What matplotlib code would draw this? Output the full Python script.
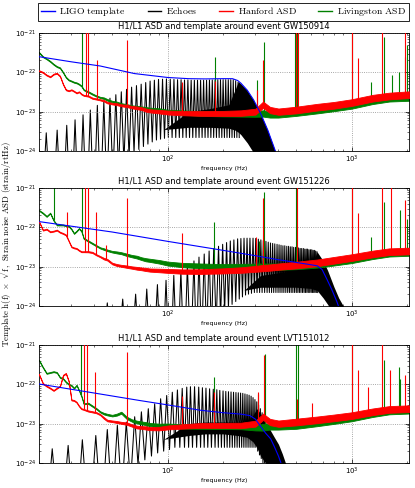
import numpy as np
import matplotlib
matplotlib.use('Agg')
import matplotlib.pyplot as plt
from matplotlib.lines import Line2D
from matplotlib.ticker import NullFormatter

plt.rcParams['mathtext.fontset'] = 'cm'

events = ['GW150914', 'GW151226', 'LVT151012']

# frequency grid used for the noise curves (Hz), and the width of the noise band (dex)
asd_f = [20, 21, 22, 23, 24, 25, 26, 27, 28, 29,
         30, 31, 32, 33, 34, 35, 37, 39, 41, 43,
         45, 47, 50, 53, 56, 60, 64, 68, 72, 76,
         80, 90, 100, 120, 150, 200, 250, 300, 330, 360,
         400, 500, 650, 800, 1000, 1300, 1600, 2048]
asd_spread = [0.012, 0.012, 0.012, 0.012, 0.012, 0.012, 0.012, 0.012, 0.012, 0.012,
              0.012, 0.012, 0.012, 0.012, 0.012, 0.012, 0.015, 0.015, 0.015, 0.015,
              0.02, 0.02, 0.02, 0.025, 0.025, 0.03, 0.03, 0.035, 0.035, 0.04,
              0.04, 0.045, 0.05, 0.055, 0.06, 0.065, 0.07, 0.075, 0.08, 0.08,
              0.08, 0.085, 0.085, 0.085, 0.085, 0.085, 0.085, 0.085]

# ---------------- GW150914 ----------------
tmpl_f1 = [20, 30, 43, 66, 100, 130, 160, 200, 225, 240, 250, 271, 293, 320, 350, 376, 400]
tmpl_v1 = [2.5e-22, 1.85e-22, 1.45e-22, 9.3e-23, 7.4e-23, 6.9e-23, 6.8e-23, 6.9e-23, 6.9e-23,
           6.2e-23, 5.3e-23, 3.5e-23, 2.0e-23, 9e-24, 3.4e-24, 1.35e-24, 6e-25]

echo_f1 = [21.9, 25.1, 28.3, 31.4, 34.7, 38.0, 41.5, 45.0, 48.6, 52.3,
           56.0, 59.8, 63.7, 67.7, 71.8, 76.0, 80.3, 84.7, 89.2, 93.8,
           98.5, 103.3, 108.2, 113.2, 118.3, 123.5, 128.8, 134.2, 139.7, 145.3,
           151.0, 156.8, 162.7, 168.7, 174.8, 181.0, 187.3, 193.7, 200.2, 206.8,
           213.5, 220.3, 227.2, 234.2, 241.3]
echo_pk1 = [2.9e-24, 3.4e-24, 4.5e-24, 6.2e-24, 8.3e-24, 1.1e-23, 1.45e-23, 1.8e-23, 2.2e-23, 2.7e-23,
            3.2e-23, 3.7e-23, 4.2e-23, 4.6e-23, 5.0e-23, 5.5e-23, 6.0e-23, 6.3e-23, 6.6e-23, 6.7e-23,
            6.8e-23, 6.7e-23, 6.6e-23, 6.5e-23, 6.5e-23, 6.4e-23, 6.4e-23, 6.3e-23, 6.3e-23, 6.3e-23,
            6.3e-23, 6.3e-23, 6.3e-23, 6.4e-23, 6.4e-23, 6.4e-23, 6.5e-23, 6.5e-23, 6.5e-23, 6.5e-23,
            6.5e-23, 6.5e-23, 6.5e-23, 6.1e-23, 5.6e-23]
echo_tr1 = [1e-26, 1e-26, 1e-26, 1e-26, 2e-26, 3e-26, 5e-26, 1e-25, 2e-25, 3e-25,
            5e-25, 7e-25, 9e-25, 1.1e-24, 1.3e-24, 1.5e-24, 1.7e-24, 1.9e-24, 2.0e-24, 2.1e-24,
            2.2e-24, 2.2e-24, 2.2e-24, 2.2e-24, 2.2e-24, 2.2e-24, 2.2e-24, 2.2e-24, 2.2e-24, 2.2e-24,
            2.2e-24, 2.2e-24, 2.2e-24, 2.2e-24, 2.2e-24, 2.2e-24, 2.2e-24, 2.2e-24, 2.2e-24, 2.2e-24,
            2.2e-24, 2.2e-24, 2.2e-24, 2.2e-24, 2.2e-24]
band_f1 = [95, 130, 170, 215, 232, 242, 250, 271, 293, 320, 350, 376, 400]
band_lo1 = [3.5e-24, 4e-24, 4e-24, 3.8e-24, 3.4e-24, 3e-24, 2.6e-24, 1.6e-24, 9e-25, 5e-25, 5e-25, 5e-25, 5e-25]
band_hi1 = [3.5e-24, 1.0e-23, 1.2e-23, 1.5e-23, 3.5e-23, 5.8e-23, 5.1e-23, 3.4e-23, 1.95e-23, 8.8e-24,
            3.3e-24, 1.3e-24, 6e-25]

h1_v1 = [1.1e-22, 1.0e-22, 8.5e-23, 7.7e-23, 9.0e-23, 9.5e-23, 8.0e-23, 5.0e-23, 3.6e-23, 3.4e-23,
         3.6e-23, 3.3e-23, 3.0e-23, 3.2e-23, 2.8e-23, 2.6e-23, 2.5e-23, 2.2e-23, 2.1e-23, 2.0e-23,
         1.9e-23, 1.7e-23, 1.6e-23, 1.55e-23, 1.45e-23, 1.4e-23, 1.3e-23, 1.25e-23, 1.2e-23, 1.1e-23,
         1.05e-23, 1.0e-23, 9.5e-24, 9.2e-24, 9.0e-24, 9.0e-24, 9.2e-24, 1.0e-23, 1.5e-23, 1.1e-23,
         1.0e-23, 1.1e-23, 1.3e-23, 1.45e-23, 1.7e-23, 2.2e-23, 2.5e-23, 2.7e-23]
l1_v1 = [3.2e-22, 2.5e-22, 2.2e-22, 1.9e-22, 1.6e-22, 1.4e-22, 1.3e-22, 1.0e-22, 7.5e-23, 6.4e-23,
         6.0e-23, 5.6e-23, 5.4e-23, 5.0e-23, 4.5e-23, 3.6e-23, 3.2e-23, 2.8e-23, 2.5e-23, 2.3e-23,
         2.2e-23, 2.0e-23, 1.8e-23, 1.7e-23, 1.55e-23, 1.45e-23, 1.35e-23, 1.3e-23, 1.25e-23, 1.2e-23,
         1.15e-23, 1.1e-23, 1.0e-23, 9.5e-24, 9.0e-24, 8.8e-24, 8.8e-24, 8.8e-24, 9.0e-24, 8.5e-24,
         8.5e-24, 9.5e-24, 1.1e-23, 1.25e-23, 1.45e-23, 1.9e-23, 2.2e-23, 2.3e-23]
h1_sf1 = [35.8, 37.0, 41.5, 60, 120, 180, 306, 331, 500, 510, 1000, 1080, 1460, 1960]
h1_sv1 = [2e-21, 2e-21, 2e-22, 6.6e-22, 5.8e-23, 6.0e-23, 3.5e-23, 2e-22, 2e-21, 2e-21,
          2e-21, 2.3e-22, 2e-21, 2e-21]
l1_sf1 = [34.4, 180, 305, 335, 495, 505, 1010, 1270, 1500, 1660, 1800, 1960, 2000]
l1_sv1 = [2e-21, 2.5e-22, 6.4e-23, 6e-22, 2e-21, 2e-21, 2e-21, 5.8e-23, 8e-22, 8.5e-23,
          1e-22, 2.5e-22, 5e-22]

# ---------------- GW151226 ----------------
tmpl_f2 = [20, 50, 100, 200, 300, 400, 500, 600, 650, 690, 730, 780, 830, 870]
tmpl_v2 = [1.4e-22, 7.6e-23, 4.4e-23, 2.6e-23, 1.9e-23, 1.5e-23, 1.28e-23, 1.12e-23, 1.05e-23,
           8.5e-24, 5e-24, 2.6e-24, 1.3e-24, 7e-25]

echo_f2 = [47, 57, 67, 77, 88, 98, 108, 118, 128, 139,
           148, 158, 168, 178, 189, 199, 209, 219, 229, 240,
           250, 260, 270, 280, 291, 301, 311, 321, 331, 342,
           352, 362, 372, 382, 393, 403, 413, 423, 433, 444,
           454, 464, 474, 484, 495, 505, 515, 525, 535, 546,
           556, 566, 576, 586, 597, 607, 617, 627, 637, 648]
echo_pk2 = [1.2e-24, 1.5e-24, 2.0e-24, 2.7e-24, 3.5e-24, 4.5e-24, 6.0e-24, 8.0e-24, 1.05e-23, 1.4e-23,
            1.75e-23, 2.1e-23, 2.5e-23, 2.9e-23, 3.3e-23, 3.7e-23, 4.1e-23, 4.5e-23, 4.8e-23, 5.1e-23,
            5.2e-23, 5.3e-23, 5.3e-23, 5.3e-23, 5.3e-23, 5.2e-23, 5.0e-23, 4.8e-23, 4.6e-23, 4.4e-23,
            4.2e-23, 4.0e-23, 3.9e-23, 3.8e-23, 3.7e-23, 3.6e-23, 3.5e-23, 3.4e-23, 3.4e-23, 3.3e-23,
            3.3e-23, 3.2e-23, 3.2e-23, 3.1e-23, 3.1e-23, 3.0e-23, 3.0e-23, 2.9e-23, 2.9e-23, 2.9e-23,
            2.8e-23, 2.8e-23, 2.8e-23, 2.7e-23, 2.7e-23, 2.7e-23, 2.6e-23, 2.6e-23, 2.5e-23, 2.4e-23]
echo_tr2 = [1e-26, 1e-26, 1e-26, 1e-26, 1e-26, 1e-26, 2e-26, 3e-26, 5e-26, 8e-26,
            1e-25, 1.5e-25, 2e-25, 3e-25, 5e-25, 7e-25, 9e-25, 1.1e-24, 1.3e-24, 1.5e-24,
            1.7e-24, 1.9e-24, 2.0e-24, 2.1e-24, 2.2e-24, 2.2e-24, 2.2e-24, 2.2e-24, 2.2e-24, 2.2e-24,
            2.2e-24, 2.2e-24, 2.2e-24, 2.2e-24, 2.2e-24, 2.2e-24, 2.2e-24, 2.2e-24, 2.2e-24, 2.2e-24,
            2.2e-24, 2.2e-24, 2.2e-24, 2.2e-24, 2.2e-24, 2.2e-24, 2.2e-24, 2.2e-24, 2.2e-24, 2.2e-24,
            2.2e-24, 2.2e-24, 2.2e-24, 2.2e-24, 2.2e-24, 2.2e-24, 2.2e-24, 2.2e-24, 2.2e-24, 2.2e-24]
band_f2 = [260, 320, 400, 500, 600, 648, 700, 740, 800, 850, 900, 950]
band_lo2 = [2.5e-24, 3e-24, 3e-24, 3e-24, 2.8e-24, 2.5e-24, 1.6e-24, 1.1e-24, 6e-25, 5e-25, 5e-25, 5e-25]
band_hi2 = [2.5e-24, 6e-24, 7e-24, 8e-24, 9e-24, 2.4e-23, 1.4e-23, 8e-24, 3.1e-24, 1.6e-24, 1e-24, 5e-25]

h1_v2 = [1.4e-22, 8.5e-23, 9.0e-23, 7.7e-23, 8.0e-23, 8.5e-23, 7.5e-23, 7.0e-23, 6.4e-23, 4.5e-23,
         3.2e-23, 3.0e-23, 2.9e-23, 2.6e-23, 2.4e-23, 2.4e-23, 2.4e-23, 2.3e-23, 2.0e-23, 1.8e-23,
         1.6e-23, 1.5e-23, 1.2e-23, 1.1e-23, 1.05e-23, 1.0e-23, 9.5e-24, 9.1e-24, 8.8e-24, 8.5e-24,
         8.2e-24, 8.0e-24, 7.8e-24, 7.5e-24, 7.5e-24, 7.8e-24, 8.2e-24, 8.8e-24, 9.2e-24, 9.5e-24,
         1.0e-23, 1.1e-23, 1.25e-23, 1.45e-23, 1.7e-23, 2.1e-23, 2.4e-23, 2.5e-23]
l1_v2 = [2.7e-22, 2.3e-22, 1.9e-22, 2.3e-22, 1.5e-22, 1.15e-22, 1.15e-22, 1.15e-22, 1.1e-22, 1.07e-22,
         9.0e-23, 7.0e-23, 8.0e-23, 9.4e-23, 8.0e-23, 5.2e-23, 4.5e-23, 3.9e-23, 3.4e-23, 3.0e-23,
         2.8e-23, 2.6e-23, 2.4e-23, 2.3e-23, 2.2e-23, 2.0e-23, 1.85e-23, 1.75e-23, 1.6e-23, 1.5e-23,
         1.45e-23, 1.33e-23, 1.2e-23, 1.1e-23, 1.05e-23, 1.0e-23, 1.0e-23, 1.0e-23, 1.0e-23, 1.0e-23,
         1.0e-23, 1.05e-23, 1.15e-23, 1.3e-23, 1.5e-23, 1.9e-23, 2.2e-23, 2.3e-23]
h1_sf2 = [28.5, 35.5, 37.0, 41.0, 46.0, 60, 120, 301, 331, 505, 1000, 1084, 1460, 1640, 1960]
h1_sv2 = [2.5e-22, 2e-21, 2e-21, 2.5e-22, 3.5e-23, 5.5e-22, 7e-23, 5.8e-23, 5.5e-22, 2e-21,
          2e-21, 2.3e-22, 2e-21, 2e-21, 5e-22]
l1_sf2 = [24.0, 34.4, 178, 313, 335, 500, 1005, 1270, 1500, 1840, 2000]
l1_sv2 = [2e-21, 2e-21, 1.4e-22, 4.5e-23, 8e-22, 2e-21, 2e-21, 5.8e-23, 4.5e-22, 2.8e-22, 1.6e-22]

# ---------------- LVT151012 ----------------
tmpl_f3 = [20, 40, 70, 100, 150, 200, 250, 280, 300, 320, 340, 363, 380, 400, 420]
tmpl_v3 = [1.02e-22, 6.0e-23, 3.9e-23, 3.0e-23, 2.2e-23, 1.9e-23, 1.75e-23, 1.6e-23, 1.3e-23,
           8.5e-24, 5.8e-24, 4.1e-24, 2.6e-24, 1.5e-24, 8e-25]

echo_f3 = [23.6, 28.8, 34.4, 40.7, 47.0, 53.3, 59.6, 66.2, 72.0, 78.5,
           85.0, 91.6, 98.8, 106, 113, 120, 127, 133, 140, 147.5,
           154.5, 161.5, 169, 177, 185, 192, 200, 207, 214, 221,
           228, 235, 242, 249, 256, 263, 270, 277, 284, 291,
           298, 305, 312, 319, 326, 333]
echo_pk3 = [2.3e-24, 2.8e-24, 3.9e-24, 5.0e-24, 7.1e-24, 9.1e-24, 1.1e-23, 1.5e-23, 2.0e-23, 2.4e-23,
            3.2e-23, 4.3e-23, 5.2e-23, 6.3e-23, 7.2e-23, 7.9e-23, 8.5e-23, 8.7e-23, 8.7e-23, 8.5e-23,
            8.2e-23, 8.0e-23, 7.7e-23, 7.5e-23, 7.3e-23, 7.0e-23, 6.8e-23, 6.6e-23, 6.5e-23, 6.4e-23,
            6.3e-23, 6.2e-23, 6.1e-23, 6.0e-23, 5.9e-23, 5.7e-23, 5.5e-23, 5.3e-23, 5.0e-23, 4.6e-23,
            4.1e-23, 3.6e-23, 3.0e-23, 2.4e-23, 1.9e-23, 1.4e-23]
echo_tr3 = [1e-26, 1e-26, 2e-26, 4e-26, 8e-26, 1.5e-25, 3e-25, 9e-25, 1.2e-24, 1.5e-24,
            1.8e-24, 2.0e-24, 2.2e-24, 2.5e-24, 2.5e-24, 2.5e-24, 2.5e-24, 2.5e-24, 2.5e-24, 2.5e-24,
            2.5e-24, 2.5e-24, 2.5e-24, 2.5e-24, 2.5e-24, 2.5e-24, 2.5e-24, 2.5e-24, 2.5e-24, 2.5e-24,
            2.5e-24, 2.5e-24, 2.5e-24, 2.5e-24, 2.5e-24, 2.5e-24, 2.5e-24, 2.5e-24, 2.5e-24, 2.5e-24,
            2.5e-24, 2.0e-24, 1.6e-24, 1.3e-24, 1.0e-24, 8e-25]
band_f3 = [95, 130, 160, 200, 240, 270, 290, 305, 320, 340, 360, 380, 400, 420, 440]
band_lo3 = [4e-24, 5e-24, 5.5e-24, 5.5e-24, 5e-24, 4.5e-24, 3.5e-24, 2.5e-24, 1.5e-24, 1e-24,
            7e-25, 5e-25, 5e-25, 5e-25, 5e-25]
band_hi3 = [4e-24, 1.0e-23, 1.1e-23, 1.1e-23, 1.1e-23, 1.2e-23, 1.6e-23, 2.4e-23, 1.8e-23, 1.1e-23,
            7e-24, 4.5e-24, 3e-24, 1.7e-24, 9e-25]

h1_v3 = [1.8e-22, 1.05e-22, 9.0e-23, 8.0e-23, 7.0e-23, 8.0e-23, 9.0e-23, 1.7e-22, 1.9e-22, 1.2e-22,
         4.0e-23, 3.9e-23, 3.5e-23, 2.8e-23, 2.4e-23, 2.3e-23, 2.1e-23, 2.0e-23, 1.9e-23, 1.7e-23,
         1.4e-23, 1.2e-23, 1.15e-23, 1.1e-23, 1.05e-23, 1.0e-23, 9.0e-24, 8.2e-24, 8.0e-24, 7.8e-24,
         7.5e-24, 7.5e-24, 8.0e-24, 8.5e-24, 9.0e-24, 9.0e-24, 9.0e-24, 1.0e-23, 1.5e-23, 1.1e-23,
         1.0e-23, 1.1e-23, 1.25e-23, 1.4e-23, 1.6e-23, 2.0e-23, 2.3e-23, 2.4e-23]
l1_v3 = [4.1e-22, 2.7e-22, 1.9e-22, 2.0e-22, 2.1e-22, 2.0e-22, 1.5e-22, 1.4e-22, 1.15e-22, 1.0e-22,
         9.4e-23, 8.0e-23, 9.5e-23, 7.0e-23, 5.0e-23, 3.2e-23, 3.3e-23, 2.8e-23, 2.4e-23, 2.0e-23,
         1.8e-23, 1.7e-23, 1.6e-23, 1.7e-23, 1.9e-23, 1.4e-23, 1.2e-23, 1.1e-23, 1.05e-23, 1.0e-23,
         9.5e-24, 9.0e-24, 9.0e-24, 8.5e-24, 8.5e-24, 8.5e-24, 8.5e-24, 8.0e-24, 8.0e-24, 8.5e-24,
         8.5e-24, 9.0e-24, 1.05e-23, 1.2e-23, 1.4e-23, 1.8e-23, 2.1e-23, 2.2e-23]
h1_sf3 = [35.0, 36.5, 40.3, 60, 120, 178, 309, 334, 505, 612, 1000, 1080, 1220, 1470, 1620, 1940]
h1_sv3 = [2e-21, 2e-21, 2e-22, 6.6e-22, 5.2e-23, 6.3e-23, 6.3e-23, 5.5e-22, 4.3e-23, 3.3e-23,
          2e-21, 2.3e-22, 8.7e-23, 2e-21, 2.3e-22, 1.7e-22]
l1_sf3 = [34.0, 178, 309, 336, 500, 510, 1005, 1500, 1810, 1830]
l1_sv3 = [2e-21, 1.5e-22, 5.8e-23, 6e-22, 2e-21, 2e-21, 2e-21, 4.1e-22, 2.8e-22, 1.4e-22]

yticks = [1e-24, 1e-23, 1e-22, 1e-21]
xticks = [100, 1000]

panels = [
    dict(tf=tmpl_f1, tv=tmpl_v1, ef=echo_f1, ep=echo_pk1, et=echo_tr1, bf=band_f1, blo=band_lo1, bhi=band_hi1,
         h1=h1_v1, l1=l1_v1, h1sf=h1_sf1, h1sv=h1_sv1, l1sf=l1_sf1, l1sv=l1_sv1),
    dict(tf=tmpl_f2, tv=tmpl_v2, ef=echo_f2, ep=echo_pk2, et=echo_tr2, bf=band_f2, blo=band_lo2, bhi=band_hi2,
         h1=h1_v2, l1=l1_v2, h1sf=h1_sf2, h1sv=h1_sv2, l1sf=l1_sf2, l1sv=l1_sv2),
    dict(tf=tmpl_f3, tv=tmpl_v3, ef=echo_f3, ep=echo_pk3, et=echo_tr3, bf=band_f3, blo=band_lo3, bhi=band_hi3,
         h1=h1_v3, l1=l1_v3, h1sf=h1_sf3, h1sv=h1_sv3, l1sf=l1_sf3, l1sv=l1_sv3),
]


def draw_echo(ax, ef, ep, et, bf, blo, bhi):
    # comb of echo peaks: tooth at each frequency, valley half way to the next one
    xs = [ef[0] * np.sqrt(ef[0] / ef[1])]
    ys = [et[0]]
    for i in range(len(ef)):
        xs.append(ef[i])
        ys.append(ep[i])
        nxt = ef[i + 1] if i + 1 < len(ef) else ef[i] * ef[i] / ef[i - 1]
        xs.append(np.sqrt(ef[i] * nxt))
        ys.append(et[i])
    ax.plot(xs, ys, color='k', lw=0.75, zorder=1)
    ax.fill_between(bf, blo, bhi, color='k', lw=0, zorder=1)


def draw_asd(ax, v, sf, sv, color, z):
    f = np.array(asd_f)
    v = np.array(v)
    s = 10 ** np.array(asd_spread)
    ax.fill_between(f, v / s, v * s, color=color, lw=0.6, zorder=z)
    base = 10 ** np.interp(np.log10(sf), np.log10(f), np.log10(v))
    ax.vlines(sf, base, sv, color=color, lw=0.8, zorder=z)


fig = plt.figure(figsize=(4.15, 4.88), dpi=100)
bottoms = [1 - 151 / 488, 1 - 306 / 488, 1 - 463 / 488]

for p, ev, b in zip(panels, events, bottoms):
    ax = fig.add_axes([39 / 415, b, 370 / 415, 118 / 488])
    draw_echo(ax, p['ef'], p['ep'], p['et'], p['bf'], p['blo'], p['bhi'])
    draw_asd(ax, p['l1'], p['l1sf'], p['l1sv'], 'g', 2)
    draw_asd(ax, p['h1'], p['h1sf'], p['h1sv'], 'r', 3)
    ax.plot(p['tf'], p['tv'], color='b', lw=0.8, zorder=4)

    ax.set_xscale('log')
    ax.set_yscale('log')
    ax.set_xticks(xticks)
    ax.set_yticks(yticks)
    ax.set_xlim(20, 2048)
    ax.set_ylim(1e-24, 1e-21)
    ax.xaxis.set_minor_formatter(NullFormatter())
    ax.yaxis.set_minor_formatter(NullFormatter())
    ax.grid(True, which='major', color='0.55', ls=':', lw=0.6)
    ax.tick_params(which='both', direction='in', top=True, right=True, labelsize=5, pad=2)
    ax.tick_params(which='major', length=3, width=0.5)
    ax.tick_params(which='minor', length=1.5, width=0.4)
    for sp in ax.spines.values():
        sp.set_linewidth(0.6)
    ax.set_title('H1/L1 ASD and template around event ' + ev, fontsize=6, pad=3)
    ax.set_xlabel('frequency (Hz)', fontsize=4.5, labelpad=1)

fig.text(0.016, 0.5,
         r'$\mathrm{Template\ h(f)}\ \times\ \sqrt{\mathrm{f}}\mathrm{,\ Strain\ noise\ ASD\ (strain/rtHz)}$',
         rotation=90, ha='center', va='center', fontsize=6.3)

handles = [Line2D([], [], color='b', lw=1.0), Line2D([], [], color='k', lw=1.0),
           Line2D([], [], color='r', lw=1.0), Line2D([], [], color='g', lw=1.0)]
labels = [r'$\mathrm{LIGO\ template}$', r'$\mathrm{Echoes}$',
          r'$\mathrm{Hanford\ ASD}$', r'$\mathrm{Livingston\ ASD}$']
leg = fig.legend(handles, labels, loc='upper left',
                 bbox_to_anchor=(38 / 415, 1 - 3 / 488, 371 / 415, 0.001),
                 mode='expand', ncol=4, fontsize=7, handlelength=1.4, handletextpad=0.5,
                 borderaxespad=0, borderpad=0.3, fancybox=False, framealpha=1, edgecolor='k')
leg.get_frame().set_linewidth(0.6)

fig.savefig('out.png', dpi=100)
